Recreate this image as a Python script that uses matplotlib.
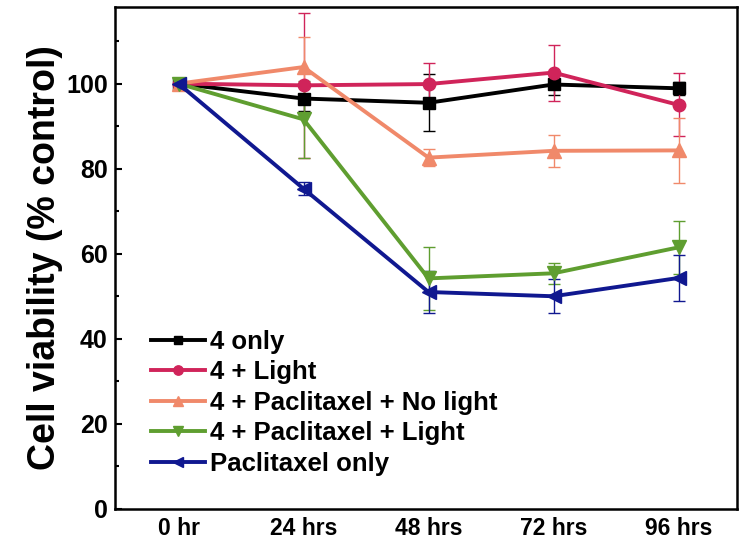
import numpy as np
import matplotlib.pyplot as plt
from matplotlib.ticker import MultipleLocator

plt.rcParams['font.family'] = ['Liberation Sans', 'DejaVu Sans']
plt.rcParams['font.weight'] = 'bold'

times = ['0 hr', '24 hrs', '48 hrs', '72 hrs', '96 hrs']

only4 = [100, 96.5, 95.5, 99.8, 98.9]
only4_err = [0, 3, 6.7, 2.5, 1.5]
light4 = [100, 99.6, 99.9, 102.6, 95.0]
light4_err = [0, 17, 5, 6.6, 7.4]
pac_nolight = [100, 103.9, 82.6, 84.2, 84.3]
pac_nolight_err = [0, 7, 2, 3.8, 7.7]
pac_light = [100, 91.6, 54.2, 55.4, 61.5]
pac_light_err = [0, 9, 7.5, 2.5, 6.2]
pac_only = [100, 75.3, 51.0, 50.0, 54.3]
pac_only_err = [0, 1.5, 5, 4, 5.3]

series = [
    ('4 only', only4, only4_err, '#000000', 's', 8),
    ('4 + Light', light4, light4_err, '#d0245a', 'o', 9),
    ('4 + Paclitaxel + No light', pac_nolight, pac_nolight_err, '#f0896a', '^', 10),
    ('4 + Paclitaxel + Light', pac_light, pac_light_err, '#5f9e30', 'v', 10),
    ('Paclitaxel only', pac_only, pac_only_err, '#101890', '<', 10),
]

fig = plt.figure(figsize=(7.5, 5.46), dpi=100)
ax = fig.add_axes([0.153, 0.068, 0.830, 0.919])

x = np.arange(len(times))
handles = []
for label, y, e, c, m, ms in series:
    cont = ax.errorbar(x, y, yerr=e, color=c, marker=m, markersize=ms, linewidth=2.8,
                       elinewidth=1.0, capsize=4, capthick=1.0, label=label)
    handles.append(cont[0])

ax.set_xlim(-0.51, 4.47)
ax.set_ylim(0, 118)
ax.set_xticks(x)
ax.set_xticklabels(times, fontsize=16.5, fontweight='bold')
ax.yaxis.set_major_locator(MultipleLocator(20))
ax.yaxis.set_minor_locator(MultipleLocator(10))
ax.tick_params(axis='y', which='major', direction='in', length=5, width=1.5,
               labelsize=18, pad=5)
ax.tick_params(axis='y', which='minor', direction='in', length=3, width=1.5)
ax.tick_params(axis='x', length=0, pad=6)
for lab in ax.get_yticklabels():
    lab.set_fontweight('bold')
for sp in ax.spines.values():
    sp.set_linewidth(1.8)

ax.set_ylabel('Cell viability (% control)', fontsize=27, fontweight='bold', labelpad=2)

ax.legend(handles=handles, labels=[s[0] for s in series], loc='lower left',
          bbox_to_anchor=(0.058, 0.066), frameon=False, markerscale=0.75,
          fontsize=18.5, handlelength=2.1, handletextpad=0.2, labelspacing=0.25,
          borderpad=0, borderaxespad=0)

fig.savefig('out.png', dpi=100)
